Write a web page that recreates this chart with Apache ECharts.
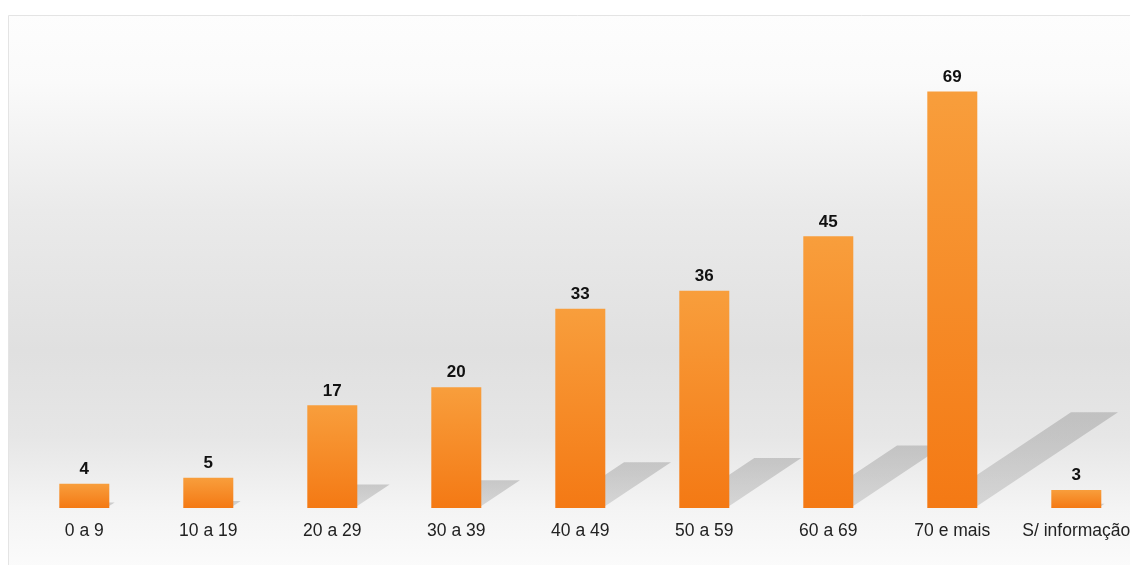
<!DOCTYPE html>
<html>
<head>
<meta charset="utf-8">
<script src="https://cdn.jsdelivr.net/npm/echarts@6/dist/echarts.min.js"></script>
<style>
html,body{margin:0;padding:0;background:#fff;overflow:hidden;width:1130px;height:565px;}
#c{width:1145px;height:565px;}
</style>
</head>
<body>
<div id="c"></div>
<script>
var categories = ['0 a 9','10 a 19','20 a 29','30 a 39','40 a 49','50 a 59','60 a 69','70 e mais','S/ informação'];
var values = [4, 5, 17, 20, 33, 36, 45, 69, 3];

var chart = echarts.init(document.getElementById('c'));
var BAR_W = 50;
var FONT = '"Liberation Sans", Arial, sans-serif';

function shadowItem(params, api) {
  var idx = api.value(0);
  var top = api.coord([idx, api.value(1)]);
  var base = api.coord([idx, 0]);
  var h = (base[1] - top[1]) * 0.23;
  var dx = h * 1.5;
  var x0 = base[0] - BAR_W / 2;
  var yb = base[1];
  var w = BAR_W - 3;
  return {
    type: 'polygon',
    shape: { points: [[x0, yb], [x0 + w, yb], [x0 + w + dx, yb - h], [x0 + dx, yb - h]] },
    style: {
      fill: new echarts.graphic.LinearGradient(0, 0, 0, 1, [
        { offset: 0, color: 'rgba(130,130,130,0.36)' },
        { offset: 1, color: 'rgba(130,130,130,0.26)' }
      ])
    }
  };
}

chart.setOption({
  animation: false,
  backgroundColor: '#ffffff',
  graphic: [{
    type: 'rect',
    z: -10,
    silent: true,
    shape: { x: 8.5, y: 15.5, width: 1140, height: 560 },
    style: {
      stroke: '#e4e4e4',
      lineWidth: 1,
      fill: new echarts.graphic.LinearGradient(0, 0, 0, 1, [
        { offset: 0, color: '#fdfdfd' },
        { offset: 0.12, color: '#fafafa' },
        { offset: 0.35, color: '#eaeaea' },
        { offset: 0.6, color: '#e0e0e0' },
        { offset: 0.75, color: '#e6e6e6' },
        { offset: 0.88, color: '#f4f4f4' },
        { offset: 1, color: '#fcfcfc' }
      ])
    }
  }],
  grid: { left: 22.3, width: 1116, top: 25, height: 483, containLabel: false },
  xAxis: {
    type: 'category',
    data: categories,
    axisLine: { show: false },
    axisTick: { show: false },
    axisLabel: { color: '#222', fontSize: 17.5, fontFamily: FONT, margin: 14, interval: 0 }
  },
  yAxis: {
    type: 'value',
    min: 0, max: 80,
    show: false,
    splitLine: { show: false }
  },
  series: [{
    type: 'custom',
    renderItem: shadowItem,
    data: values.map(function (v, i) { return [i, v]; }),
    encode: { x: 0, y: 1 },
    z: 1,
    silent: true
  }, {
    type: 'bar',
    data: values,
    barWidth: BAR_W,
    z: 5,
    itemStyle: {
      color: new echarts.graphic.LinearGradient(0, 0, 0, 1, [
        { offset: 0, color: '#f89e3c' },
        { offset: 1, color: '#f47914' }
      ])
    },
    label: {
      show: true,
      position: 'top',
      distance: 6,
      color: '#111',
      fontSize: 17,
      fontWeight: 'bold',
      fontFamily: FONT
    }
  }]
});
</script>
</body>
</html>
